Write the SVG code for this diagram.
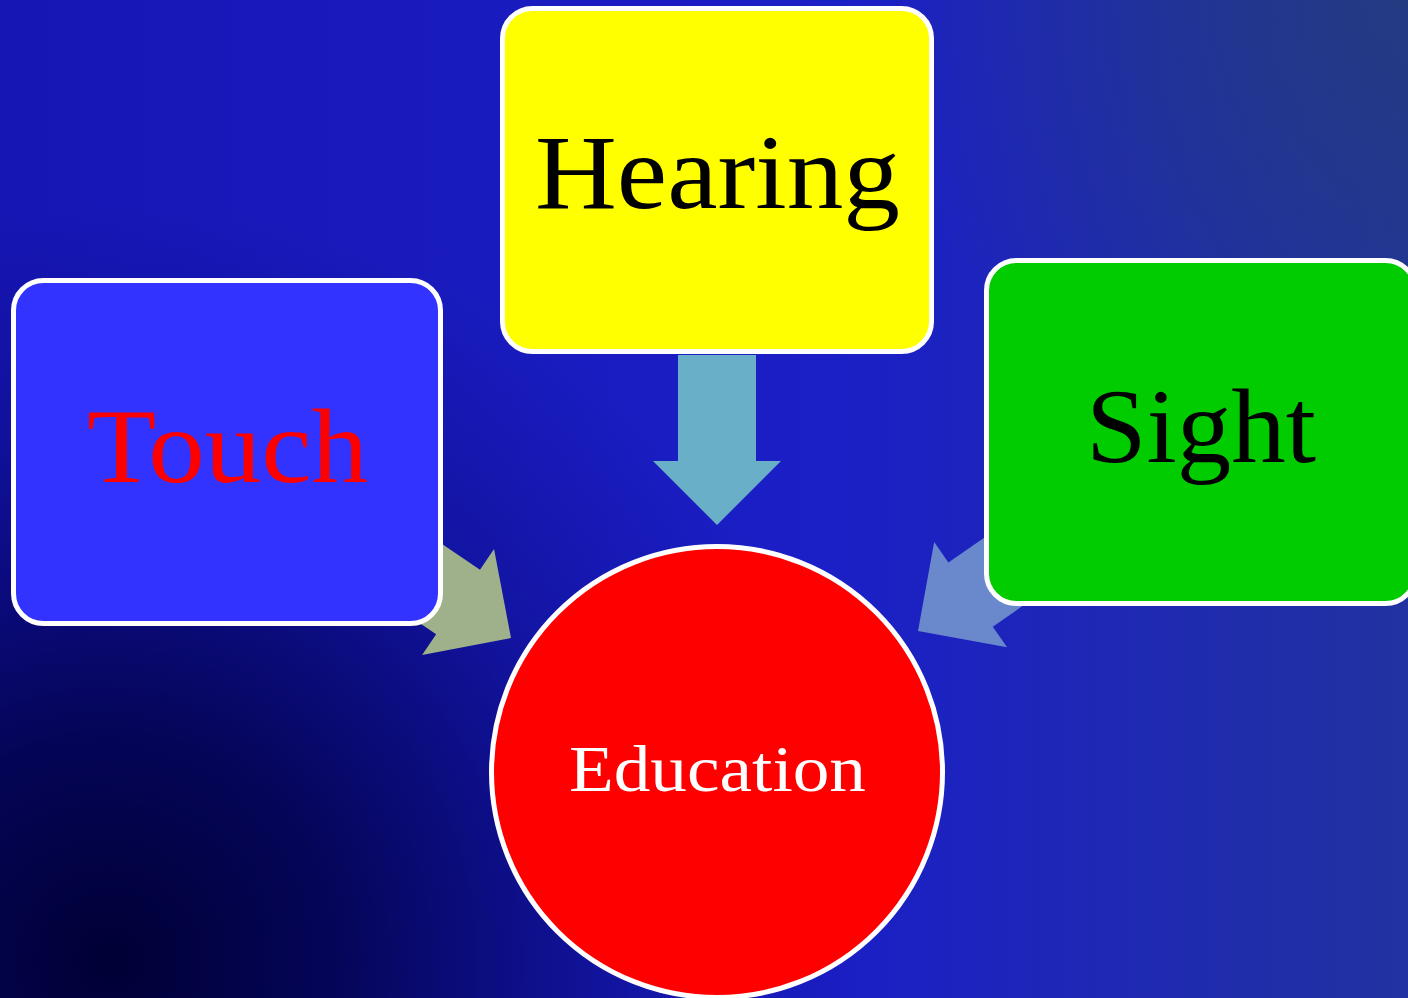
<svg xmlns="http://www.w3.org/2000/svg" width="1408" height="998" viewBox="0 0 1408 998">
  <defs>
    <linearGradient id="bgBase" x1="0" y1="0" x2="1" y2="0">
      <stop offset="0" stop-color="#1616b4"/>
      <stop offset="0.6" stop-color="#1b1fc6"/>
      <stop offset="1" stop-color="#2232a0"/>
    </linearGradient>
    <radialGradient id="bgShadow" gradientUnits="userSpaceOnUse" cx="110" cy="960" r="760">
      <stop offset="0" stop-color="#000035" stop-opacity="1"/>
      <stop offset="0.3" stop-color="#000040" stop-opacity="0.8"/>
      <stop offset="0.7" stop-color="#000050" stop-opacity="0.25"/>
      <stop offset="1" stop-color="#000060" stop-opacity="0"/>
    </radialGradient>
    <radialGradient id="bgHaze" gradientUnits="userSpaceOnUse" cx="1408" cy="0" r="520">
      <stop offset="0" stop-color="#243c7c" stop-opacity="0.85"/>
      <stop offset="1" stop-color="#243c7c" stop-opacity="0"/>
    </radialGradient>
    <!-- block arrow pointing along +x with its tip at the origin -->
    <polygon id="blockArrow" points="0,0 -64,-64 -64,-39 -170,-39 -170,39 -64,39 -64,64"/>
  </defs>
  <style>
    .node-shape { stroke: #ffffff; stroke-width: 5; }
    .label { font-family: "Liberation Serif", "DejaVu Serif", serif; text-anchor: middle; }
    .big { font-size: 105px; }
    .small { font-size: 65px; }
  </style>

  <!-- background -->
  <rect width="1408" height="998" fill="url(#bgBase)"/>
  <rect width="1408" height="998" fill="url(#bgHaze)"/>
  <rect width="1408" height="998" fill="url(#bgShadow)"/>

  <!-- connectors -->
  <g id="connectors">
    <use href="#blockArrow" fill="#9fb18a" transform="translate(511 638) rotate(34.2)"/>
    <use href="#blockArrow" fill="#6aafc8" transform="translate(717 525) rotate(90)"/>
    <use href="#blockArrow" fill="#6a88cc" transform="translate(918 631) rotate(145.3)"/>
  </g>

  <g id="touch">
    <rect class="node-shape" x="13.5" y="280.5" width="427" height="343" rx="30" fill="#3333ff"/>
    <text class="label big" x="227.5" y="482" fill="#ff0000" textLength="281" lengthAdjust="spacingAndGlyphs">Touch</text>
  </g>

  <g id="hearing">
    <rect class="node-shape" x="502.5" y="8.5" width="429" height="343" rx="30" fill="#ffff00"/>
    <text class="label big" x="717.5" y="208" fill="#000000" textLength="365" lengthAdjust="spacingAndGlyphs">Hearing</text>
  </g>

  <g id="sight">
    <rect class="node-shape" x="986.5" y="260.5" width="429" height="343" rx="30" fill="#00cc00"/>
    <text class="label big" x="1201" y="462" fill="#000000" textLength="230" lengthAdjust="spacingAndGlyphs">Sight</text>
  </g>

  <g id="education">
    <circle class="node-shape" cx="717" cy="772" r="225.5" fill="#ff0000"/>
    <text class="label small" x="717.5" y="791" fill="#ffffff" textLength="297" lengthAdjust="spacingAndGlyphs">Education</text>
  </g>
</svg>
